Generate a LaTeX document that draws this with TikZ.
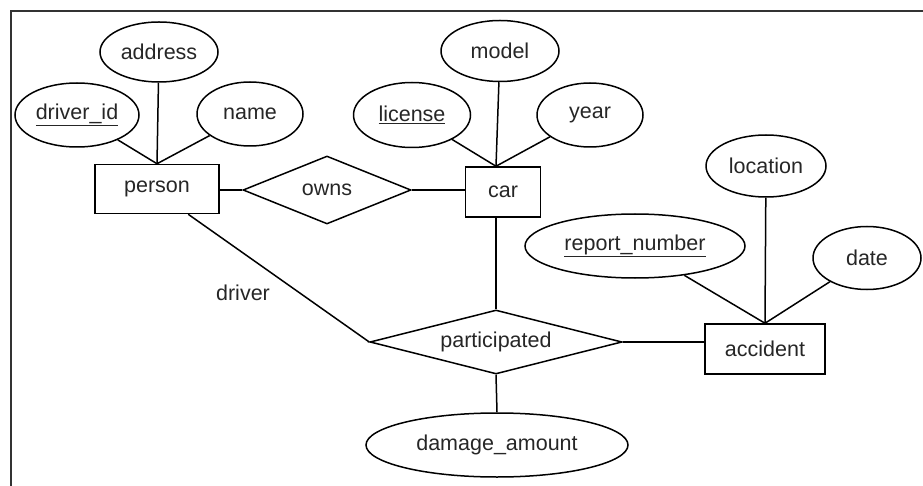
\documentclass[tikz,border=0pt]{standalone}
\usepackage{fontspec}
\setmainfont{Liberation Sans}
\usetikzlibrary{shapes.geometric}
\begin{document}
\begin{tikzpicture}[x=1pt,y=-1pt,
  every node/.style={font=\fontsize{21.5}{24}\selectfont, text=black!85},
  attr/.style={draw, ellipse, line width=1.5pt, inner sep=0pt},
  ent/.style={draw, rectangle, line width=1.5pt, inner sep=0pt},
  rel/.style={draw, diamond, line width=1.5pt, inner sep=0pt},
  conn/.style={line width=1.5pt},
  frame/.style={line width=2pt, black!80}]
\useasboundingbox (0,0) rectangle (923,486);
\coordinate (ftr) at (923,11.5);
\coordinate (ftl) at (10.5,11.5);
\coordinate (fbl) at (10.5,486);
\draw[frame] (ftr) -- (ftl) -- (fbl);

% person
\node[attr, minimum width=118, minimum height=60] (address) at (159,52) {address};
\node[attr, minimum width=124, minimum height=64] (driverid) at (77,115) {\underline{driver\_id}};
\node[attr, minimum width=106, minimum height=64] (name) at (250,114) {name};
\node[ent, minimum width=124, minimum height=49] (person) at (157,189) {person};

% owns
\node[rel, aspect=2.5, minimum width=168, minimum height=68] (owns) at (327,190) {owns};

% car
\node[attr, minimum width=118, minimum height=61] (model) at (500,51) {model};
\node[attr, minimum width=117, minimum height=65] (license) at (412,115) {\underline{license}};
\node[attr, minimum width=106, minimum height=64] (year) at (590,115) {year};
\node[ent, minimum width=75, minimum height=50] (car) at (503,192) {car};

% participated
\node[rel, aspect=3.9, minimum width=252, minimum height=64] (part) at (496,342) {participated};
\node[attr, minimum width=262, minimum height=64] (damage) at (497,445) {damage\_amount};
\node (driver) at (243,293) {driver};

% accident
\node[attr, minimum width=220, minimum height=64] (report) at (635,246) {\underline{report\_number}};
\node[attr, minimum width=120, minimum height=62] (location) at (766,166) {location};
\node[attr, minimum width=108, minimum height=63] (date) at (867,258) {date};
\node[ent, minimum width=120, minimum height=50] (accident) at (765,349) {accident};

% connectors
\draw[conn] (driverid) -- (person.north);
\draw[conn] (address) -- (person.north);
\draw[conn] (name) -- (person.north);
\draw[conn] (person.east |- owns.west) -- (owns.west);
\draw[conn] (owns.east) -- (owns.east -| car.west);
\draw[conn] (license) -- (car.north -| part.north);
\draw[conn] (model) -- (car.north -| part.north);
\draw[conn] (year) -- (car.north -| part.north);
\draw[conn] (car.south -| part.north) -- (part.north);
\draw[conn] (person.-39) -- (part.west);
\draw[conn] (part.east) -- (part.east -| accident.west);
\draw[conn] (part.south) -- (damage.north);
\draw[conn] (report) -- (accident.north);
\draw[conn] (location) -- (accident.north);
\draw[conn] (date) -- (accident.north);
\end{tikzpicture}
\end{document}
